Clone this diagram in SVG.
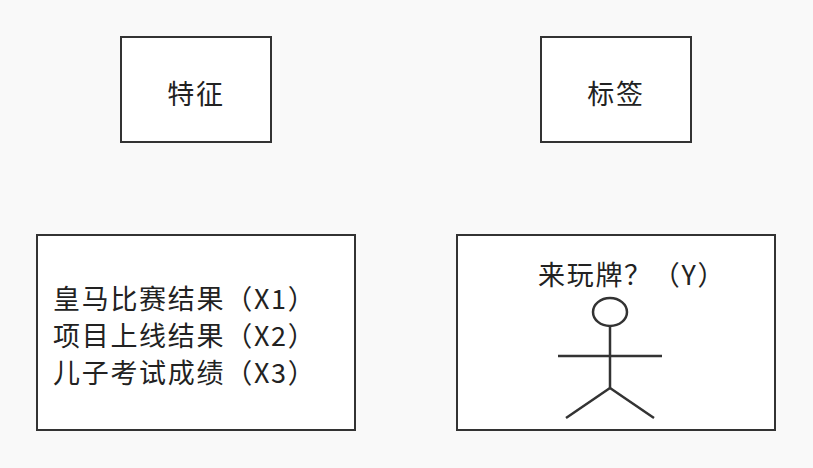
<svg xmlns="http://www.w3.org/2000/svg" width="813" height="468" viewBox="0 0 813 468">
<style>
.box{fill:#fff;stroke:#333;stroke-width:2}
.t{font-family:"PingFang SC","Noto Sans CJK SC",sans-serif;font-size:27px;fill:#222;letter-spacing:1.7px}
.fig{fill:none;stroke:#333;stroke-width:2.5}
</style>
<rect width="813" height="468" fill="#f9f9f9"/>
<g id="feature"><rect class="box" x="121" y="37" width="150" height="105"/><text class="t" x="196" y="104" text-anchor="middle">特征</text></g>
<g id="label"><rect class="box" x="541" y="37" width="150" height="105"/><text class="t" x="616" y="104" text-anchor="middle">标签</text></g>
<g id="x"><rect class="box" x="37" y="235" width="318" height="195"/>
<text class="t" x="53" y="309">皇马比赛结果（X1）</text>
<text class="t" x="53" y="346">项目上线结果（X2）</text>
<text class="t" x="53" y="383">儿子考试成绩（X3）</text></g>
<g id="y"><rect class="box" x="457" y="235" width="318" height="195"/>
<text class="t" x="538" y="285">来玩牌？（Y）</text>
<g class="fig"><ellipse cx="610" cy="312" rx="17" ry="14"/><line x1="610" y1="326" x2="610" y2="388"/><line x1="558" y1="356" x2="662" y2="356"/><line x1="610" y1="388" x2="566" y2="418"/><line x1="610" y1="388" x2="654" y2="418"/></g></g>
<g id="connectors"/>
</svg>
